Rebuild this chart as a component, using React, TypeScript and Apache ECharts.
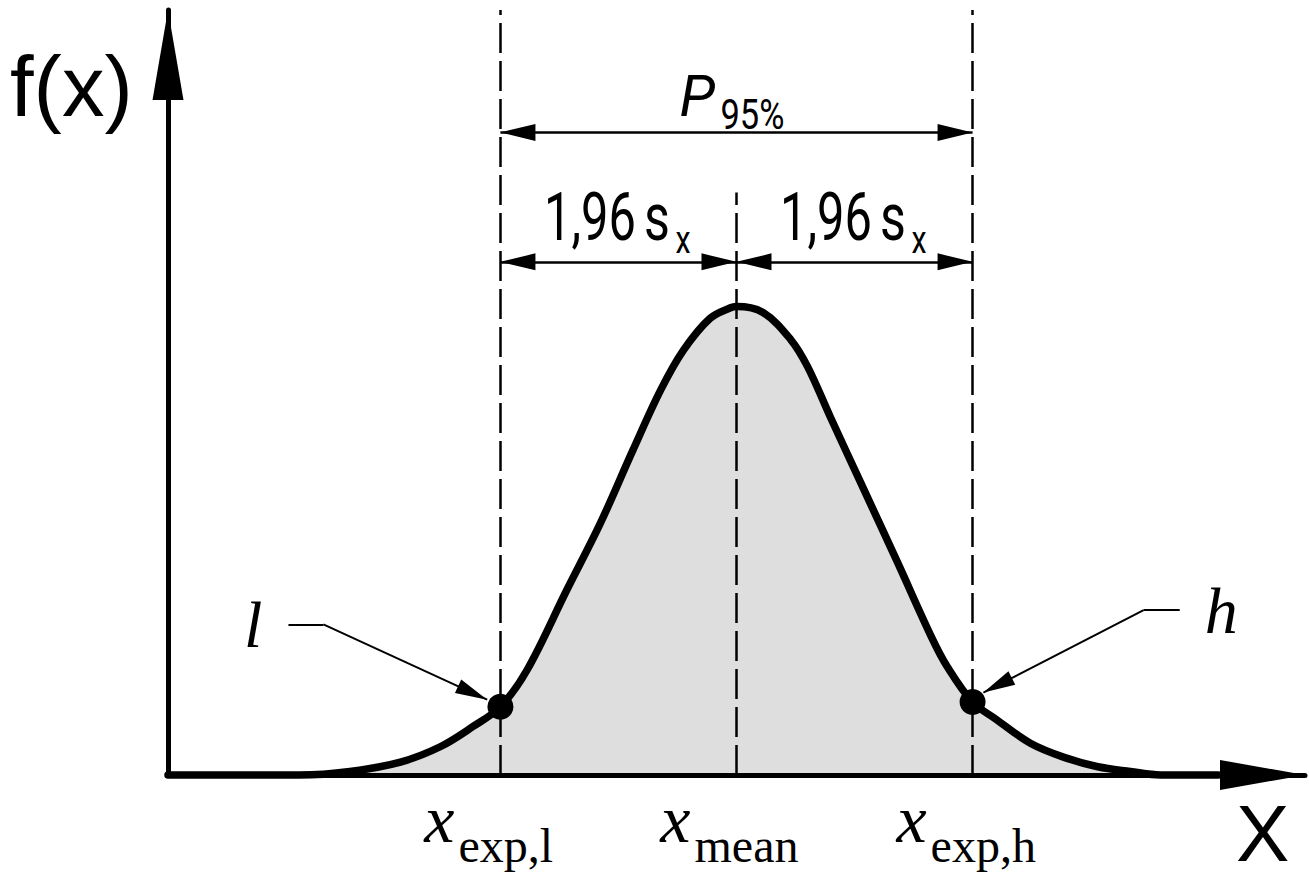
import React, { useEffect, useRef } from "react";
import * as echarts from "echarts";

// Density curve f(x); x in units of s_x around the mean, y = f(x)
const curveX = [
  -4.72, -3.63, -3.21, -2.79, -2.46, -2.19, -1.96, -1.74, -1.41, -1.13, -0.86, -0.63, -0.44, -0.22,
  -0.05, 0, 0.22, 0.45, 0.59, 0.78, 1.06, 1.34, 1.62, 1.75, 1.96, 2.16, 2.44, 2.72, 3.0, 3.27, 3.52, 4.0,
];
const curveY = [
  0, 0, 0.003, 0.011, 0.024, 0.041, 0.058, 0.089, 0.157, 0.214, 0.276, 0.327, 0.361, 0.388,
  0.397, 0.398, 0.393, 0.37, 0.347, 0.304, 0.242, 0.18, 0.117, 0.092, 0.062, 0.047, 0.027, 0.015, 0.007, 0.003, 0, 0,
];

// Axis extents
const xRange = [-4.72, 4.72];
const yRange = [0, 0.65];

// Interval limits and mean
const meanX = 0;
const lowX = -1.96;
const highX = 1.96;
const limitPointsX = [lowX, highX];
const limitPointsY = [0.058, 0.062];
const limitNames = ["l", "h"];

// Dashed guide lines: x position and top
const guideX = [lowX, meanX, highX];
const guideTop = [0.65, 0.495, 0.65];

// Dimension lines
const intervalLevel = 0.546;
const spreadLevel = 0.436;
const intervalText = ["P", "95%"];
const spreadText = ["1,96", "s", "x"];

// Leader lines (label end, knee, arrow tip)
const leaderLowX = [-3.72, -3.43, -2.07];
const leaderLowY = [0.128, 0.128, 0.064];
const leaderHighX = [3.68, 3.38, 2.05];
const leaderHighY = [0.14, 0.14, 0.07];

// Axis markers under the x axis
const axisMarkX = [lowX, meanX, highX];
const axisMarkSub = ["exp,l", "mean", "exp,h"];

const BLACK = "#000";
const SANS = "'Liberation Sans', Arial, sans-serif";
const SERIF = "'Liberation Serif', 'Times New Roman', serif";
const TECH = "Roboto, 'DejaVu Sans', sans-serif";

type TxtOpts = { italic?: boolean; weight?: number | string; align?: string; scaleX?: number };

function txt(text: string, x: number, baseline: number, size: number, family: string, o: TxtOpts = {}) {
  return {
    type: "text",
    x,
    y: baseline - 0.34 * size,
    scaleX: o.scaleX ?? 1,
    z: 20,
    silent: true,
    style: {
      text,
      fontSize: size,
      fontFamily: family,
      fontStyle: o.italic ? "italic" : "normal",
      fontWeight: o.weight ?? "normal",
      fill: BLACK,
      align: o.align ?? "left",
      verticalAlign: "middle",
    },
  };
}

export default function App() {
  const ref = useRef<HTMLDivElement>(null);

  useEffect(() => {
    const el = ref.current;
    if (!el) return;
    const chart = echarts.init(el, null, { renderer: "svg" });

    const curve = curveX.map((x, i) => [x, curveY[i]]);
    const points = limitPointsX.map((x, i) => [x, limitPointsY[i]]);
    const hidden = { axisTick: { show: false }, axisLabel: { show: false }, splitLine: { show: false } };

    chart.setOption({
      animation: false,
      backgroundColor: "#fff",
      grid: { left: 168, right: 4, top: 10, bottom: 103, containLabel: false, outerBoundsMode: "none" },
      xAxis: {
        type: "value",
        min: xRange[0],
        max: xRange[1],
        z: 8,
        axisLine: {
          show: true,
          onZero: false,
          lineStyle: { color: BLACK, width: 5 },
          symbol: ["none", "triangle"],
          symbolSize: [30, 85],
          symbolOffset: [0, -42.5],
        },
        ...hidden,
      },
      yAxis: {
        type: "value",
        min: yRange[0],
        max: yRange[1],
        z: 8,
        axisLine: {
          show: true,
          onZero: false,
          lineStyle: { color: BLACK, width: 5 },
          symbol: ["none", "triangle"],
          symbolSize: [31, 90],
          symbolOffset: [0, -45],
        },
        ...hidden,
      },
      series: [
        {
          name: "f(x)",
          type: "line",
          data: curve,
          smooth: 0.35,
          symbol: "none",
          clip: false,
          z: 3,
          silent: true,
          lineStyle: { color: BLACK, width: 7.5, join: "round", cap: "round" },
          areaStyle: { color: "#dedede", opacity: 1 },
        },
        {
          name: "guides",
          type: "line",
          data: [],
          z: 4,
          silent: true,
          markLine: {
            silent: true,
            symbol: ["none", "none"],
            label: { show: false },
            emphasis: { disabled: true },
            lineStyle: { color: BLACK, width: 2.5, type: [30, 8] },
            data: guideX.map((x, i) => [{ coord: [x, 0] }, { coord: [x, guideTop[i]] }]),
          },
        },
        {
          name: "dimensions",
          type: "line",
          data: [],
          z: 6,
          silent: true,
          markLine: {
            silent: true,
            symbol: ["triangle", "triangle"],
            symbolSize: [17, 35],
            symbolOffset: [
              [0, 17.5],
              [0, 17.5],
            ],
            label: { show: false },
            emphasis: { disabled: true },
            lineStyle: { color: BLACK, width: 2.5, type: "solid" },
            data: [
              [{ coord: [lowX, intervalLevel] }, { coord: [highX, intervalLevel] }],
              [{ coord: [lowX, spreadLevel] }, { coord: [meanX, spreadLevel] }],
              [{ coord: [meanX, spreadLevel] }, { coord: [highX, spreadLevel] }],
            ],
          },
        },
        {
          name: "leaders",
          type: "line",
          data: [],
          z: 6,
          silent: true,
          markLine: {
            silent: true,
            symbol: ["none", "triangle"],
            symbolSize: [15, 32],
            symbolOffset: [
              [0, 0],
              [0, 16],
            ],
            label: { show: false },
            emphasis: { disabled: true },
            lineStyle: { color: BLACK, width: 2, type: "solid" },
            data: [
              [{ coord: [leaderLowX[1], leaderLowY[1]] }, { coord: [leaderLowX[2], leaderLowY[2]] }],
              [{ coord: [leaderHighX[1], leaderHighY[1]] }, { coord: [leaderHighX[2], leaderHighY[2]] }],
            ],
          },
        },
        {
          name: "leaderTails",
          type: "line",
          data: [],
          z: 6,
          silent: true,
          markLine: {
            silent: true,
            symbol: ["none", "none"],
            label: { show: false },
            emphasis: { disabled: true },
            lineStyle: { color: BLACK, width: 2, type: "solid" },
            data: [
              [{ coord: [leaderLowX[0], leaderLowY[0]] }, { coord: [leaderLowX[1], leaderLowY[1]] }],
              [{ coord: [leaderHighX[0], leaderHighY[0]] }, { coord: [leaderHighX[1], leaderHighY[1]] }],
            ],
          },
        },
        {
          name: "limits",
          type: "scatter",
          data: points,
          symbol: "circle",
          symbolSize: 26,
          z: 7,
          silent: true,
          itemStyle: { color: BLACK, opacity: 1 },
        },
      ],
    });

    const p = (x: number, y: number) => chart.convertToPixel({ gridIndex: 0 }, [x, y]) as number[];
    const origin = p(xRange[0], 0);
    const top = p(xRange[0], yRange[1]);
    const end = p(xRange[1], 0);
    const mean = p(meanX, 0)[0];
    const low = p(lowX, 0)[0];
    const high = p(highX, 0)[0];
    const yInterval = p(0, intervalLevel)[1];
    const ySpread = p(0, spreadLevel)[1];

    const elements: any[] = [];
    // axis titles
    elements.push(txt("f(x)", origin[0] - 158, top[1] + 105, 85, SANS));
    elements.push(txt("X", end[0] - 69, origin[1] + 86, 80, SANS));

    // P95% over the interval dimension
    elements.push(txt(intervalText[0], mean - 57, yInterval - 17, 58, TECH, { italic: true }));
    elements.push(txt(intervalText[1], mean - 16, yInterval - 4, 42, TECH, { scaleX: 0.82 }));

    // 1,96 s_x over each half
    [(low + mean) / 2, (mean + high) / 2].forEach((c) => {
      elements.push(txt(spreadText[0], c - 74.5, ySpread - 22, 66, TECH, { scaleX: 0.74 }));
      elements.push(txt(spreadText[1], c + 25.5, ySpread - 22, 66, TECH, { scaleX: 0.76 }));
      elements.push(txt(spreadText[2], c + 57, ySpread - 9, 38, TECH, { scaleX: 0.8 }));
    });

    // x_exp,l / x_mean / x_exp,h under the axis
    axisMarkX.forEach((v, i) => {
      const cx = p(v, 0)[0];
      elements.push(txt("x", cx - 46, origin[1] + 67, 68, SERIF, { italic: true, align: "right" }));
      elements.push(txt(axisMarkSub[i], cx - 42, origin[1] + 87, 48, SERIF));
    });

    // point names at the leader ends
    const lowEnd = p(leaderLowX[0], leaderLowY[0]);
    const highEnd = p(leaderHighX[0], leaderHighY[0]);
    elements.push(txt(limitNames[0], lowEnd[0] - 26, lowEnd[1] + 23, 66, SERIF, { italic: true, align: "right" }));
    elements.push(txt(limitNames[1], highEnd[0] + 25, highEnd[1] + 23, 66, SERIF, { italic: true }));

    chart.setOption({ graphic: { elements } });

    return () => chart.dispose();
  }, []);

  return (
    <div
      ref={ref}
      style={{ position: "absolute", left: 0, top: 0, width: 1309, height: 878, background: "#fff" }}
    />
  );
}
